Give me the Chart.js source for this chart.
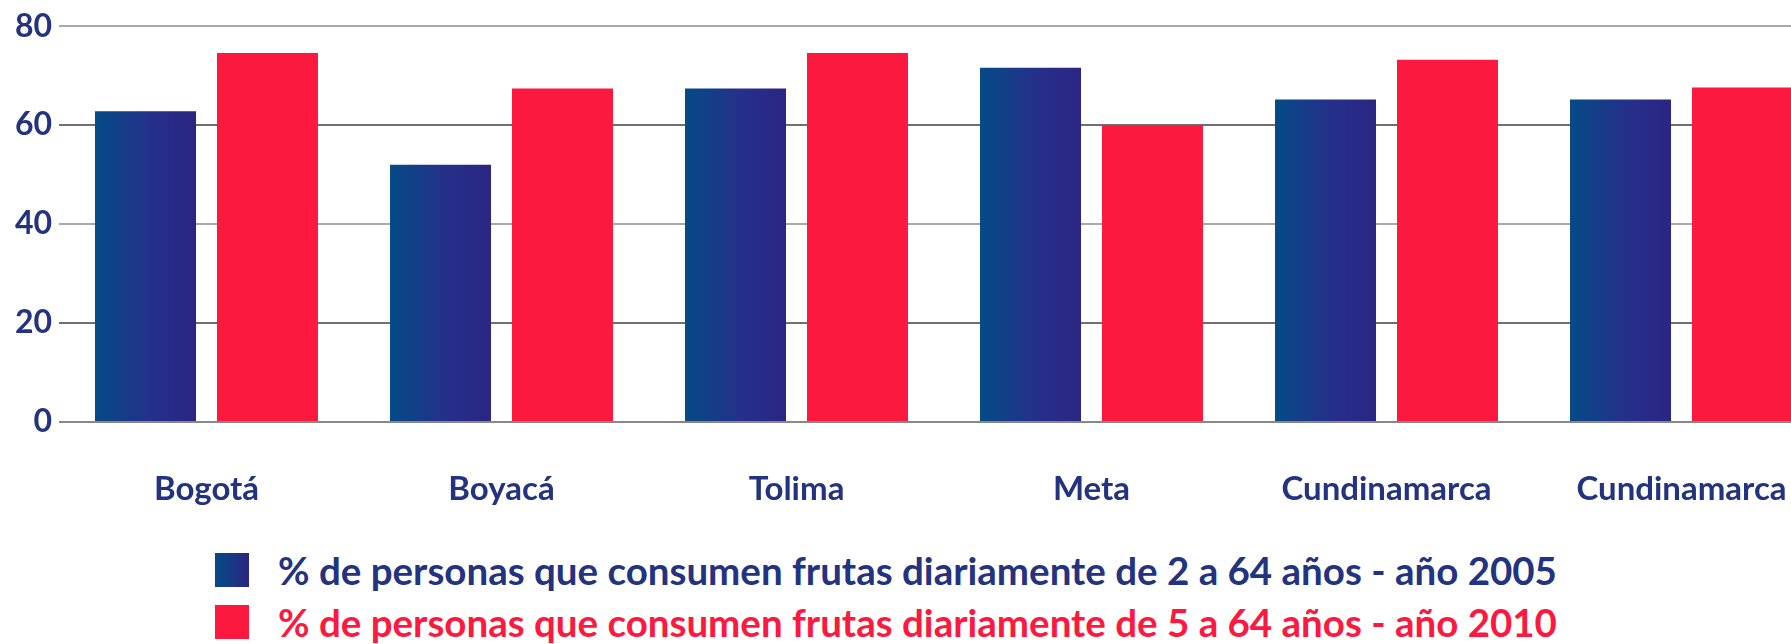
<!DOCTYPE html>
<html lang="es">
<head>
  <meta charset="UTF-8"/>
  <title>Consumo diario de frutas</title>
  <script src="https://cdn.jsdelivr.net/npm/chart.js"></script>
  <style>
    body { margin:0; padding:0; background:#fff; font-family:'Lato',sans-serif; }
    .wrap { position:relative; width:1791px; height:644px; overflow:hidden; }
    .plot { position:absolute; left:0; top:0; width:1829px; height:540px; }
    .legend { position:absolute; left:215px; top:544px; }
    .legend .row { display:flex; align-items:center; height:52px; font-weight:700; font-size:38.5px; white-space:nowrap; }
    .legend .box { width:34px; height:34px; margin-right:29px; flex:none; }
  </style>
</head>
<body>
<div class="wrap">
  <div class="plot"><canvas id="chart" width="1829" height="540"></canvas></div>
  <div class="legend" id="legend"></div>
</div>

<script>
  // data
  const categories = ['Bogotá','Boyacá','Tolima','Meta','Cundinamarca','Cundinamarca'];
  const frutas2005 = [62.8, 52.0, 67.4, 71.6, 65.2, 65.2];
  const frutas2010 = [74.6, 67.4, 74.6, 60.0, 73.2, 67.6];
  const yTicks = [0, 20, 40, 60, 80];
  const seriesNames = [
    '% de personas que consumen frutas diariamente de 2 a 64 años - año 2005',
    '% de personas que consumen frutas diariamente de 5 a 64 años - año 2010'
  ];

  const navy = '#24337f', red = '#fc1940';
  const gridColors = ['#888888','#707070','#aaaaaa','#707070','#aaaaaa'];

  // horizontal gradient on each blue bar, once the bars have a position
  function blueFill(c){
    const el = c.element;
    if(!el || el.x == null || el.width == null) return '#1d3a86';
    const g = c.chart.ctx.createLinearGradient(el.x - el.width/2, 0, el.x + el.width/2, 0);
    g.addColorStop(0, '#054b86');
    g.addColorStop(0.55, '#25308a');
    g.addColorStop(1, '#2b2583');
    return g;
  }

  const chart = new Chart(document.getElementById('chart'), {
    type:'bar',
    data:{
      labels:categories,
      datasets:[
        {label:seriesNames[0], data:frutas2005, backgroundColor:blueFill, categoryPercentage:0.827, barPercentage:0.828},
        {label:seriesNames[1], data:frutas2010, backgroundColor:red, categoryPercentage:0.827, barPercentage:0.828}
      ]
    },
    options:{
      responsive:false,
      animation:false,
      devicePixelRatio:1,
      layout:{padding:{top:25, left:0, right:0, bottom:0}},
      plugins:{legend:{display:false}, tooltip:{enabled:false}},
      scales:{
        x:{
          grid:{display:false},
          border:{display:false},
          ticks:{color:navy, padding:40, font:{family:'Lato', size:33, weight:'bold'}},
          afterFit:s => { s.height = 118; }
        },
        y:{
          min:0, max:80,
          afterBuildTicks:s => { s.ticks = yTicks.map(v => ({value:v})); },
          grid:{drawTicks:false, lineWidth:2, color:c => gridColors[c.index] || '#aaa'},
          border:{display:false},
          ticks:{color:navy, padding:7, font:{family:'Lato', size:32, weight:'bold'}},
          afterFit:s => { s.width = 59; }
        }
      }
    }
  });
  chart.update('none');

  // legend drawn as html under the plot
  const legendEl = document.getElementById('legend');
  const legendFills = ['linear-gradient(to right,#054b86,#2b2583)', red];
  const legendText = [navy, red];
  seriesNames.forEach((name, i) => {
    const row = document.createElement('div');
    row.className = 'row';
    row.style.color = legendText[i];
    const box = document.createElement('span');
    box.className = 'box';
    box.style.background = legendFills[i];
    row.appendChild(box);
    row.appendChild(document.createTextNode(name));
    legendEl.appendChild(row);
  });
</script>
</body>
</html>
